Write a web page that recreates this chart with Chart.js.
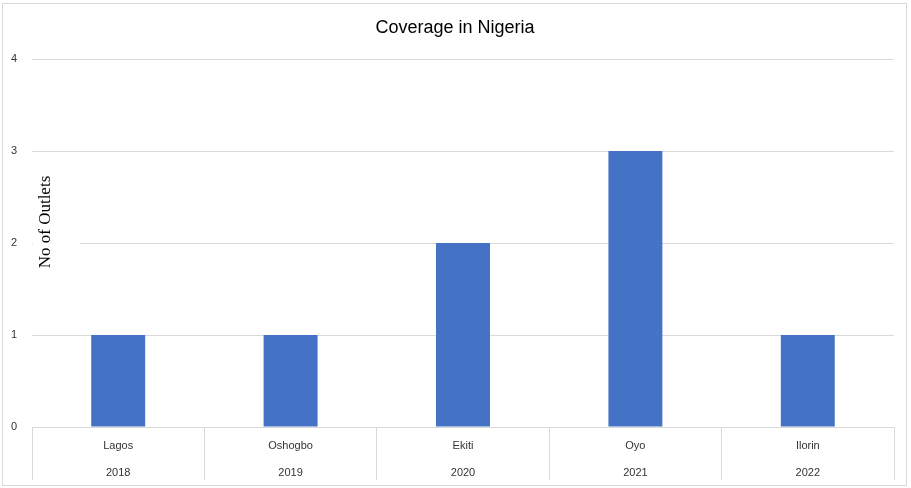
<!DOCTYPE html>
<html>
<head>
<meta charset="utf-8">
<script src="https://cdn.jsdelivr.net/npm/chart.js@4/dist/chart.umd.min.js"></script>
<style>
  html, body { margin: 0; padding: 0; background: #fff; }
  #wrap { position: relative; width: 911px; height: 488px; }
  #frame { position: absolute; left: 2px; top: 3px; width: 905px; height: 483px; border: 1px solid #d9d9d9; box-sizing: border-box; pointer-events: none; }
</style>
</head>
<body>
<div id="wrap">
  <canvas id="chart" width="911" height="488"></canvas>
  <div id="frame"></div>
</div>
<script>
'use strict';

const cities = ['Lagos', 'Oshogbo', 'Ekiti', 'Oyo', 'Ilorin'];
const years = ['2018', '2019', '2020', '2021', '2022'];
const outlets = [1, 1, 2, 3, 1];
const yTicks = [0, 1, 2, 3, 4];

const GRID = '#d9d9d9';
const TEXT = '#333333';

// y title sits inside the plot, on a white patch over the gridlines
const insideAxisTitle = {
  id: 'insideAxisTitle',
  afterDraw(chart) {
    const { ctx, chartArea } = chart;
    const h = chartArea.bottom - chartArea.top;
    const cy = chartArea.top + h * 0.443;
    ctx.save();
    ctx.fillStyle = '#fff';
    ctx.fillRect(chartArea.left + 1, cy - 55, 47, 110);
    ctx.translate(chartArea.left + 14, cy);
    ctx.rotate(-Math.PI / 2);
    ctx.font = '17px "Liberation Serif", "DejaVu Serif", serif';
    ctx.fillStyle = '#000';
    ctx.textAlign = 'center';
    ctx.textBaseline = 'middle';
    ctx.fillText('No of Outlets', 0, 0);
    ctx.restore();
  },
};

new Chart(document.getElementById('chart'), {
  type: 'bar',
  data: {
    labels: cities.map((city, i) => [city, years[i]]),
    datasets: [{
      data: outlets,
      backgroundColor: '#4472C4',
      categoryPercentage: 1,
      barPercentage: 0.313,
    }],
  },
  options: {
    responsive: false,
    animation: false,
    layout: { padding: { top: 0, left: 8, right: 9, bottom: 3 } },
    plugins: {
      legend: { display: false },
      tooltip: { enabled: false },
      title: {
        display: true,
        text: 'Coverage in Nigeria',
        color: '#000',
        font: { family: '"Liberation Sans", Arial, sans-serif', size: 18, weight: 'normal' },
        padding: { top: 17, bottom: 20.4 },
      },
    },
    scales: {
      x: {
        grid: { offset: true, drawOnChartArea: false, drawTicks: true, tickLength: 53, color: GRID },
        border: { display: true, color: GRID },
        ticks: {
          color: TEXT,
          padding: -47,
          maxRotation: 0,
          autoSkip: false,
          font: { family: '"Liberation Sans", Arial, sans-serif', size: 11, lineHeight: 2.4 },
        },
        afterFit(scale) { scale.height = 58; },
      },
      y: {
        min: 0,
        max: 4,
        afterBuildTicks(scale) { scale.ticks = yTicks.map(value => ({ value })); },
        grid: { color: GRID, drawTicks: false },
        border: { display: false },
        ticks: {
          color: TEXT,
          padding: 15,
          font: { family: '"Liberation Sans", Arial, sans-serif', size: 11 },
        },
        afterFit(scale) { scale.width = 24; },
      },
      // empty spacer on the right so the title centres on the whole frame
      spacer: {
        type: 'linear',
        position: 'right',
        grid: { display: false },
        border: { display: false },
        ticks: { display: false },
        afterFit(scale) { scale.width = 8; },
      },
    },
  },
  plugins: [insideAxisTitle],
});
</script>
</body>
</html>
